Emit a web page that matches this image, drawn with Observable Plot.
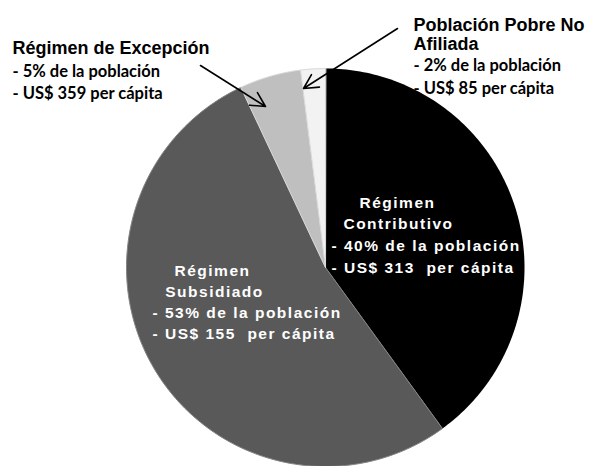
<!DOCTYPE html>
<html>
<head>
<meta charset="utf-8">
<script src="https://cdn.jsdelivr.net/npm/d3@7"></script>
<script src="https://cdn.jsdelivr.net/npm/@observablehq/plot@0.6"></script>
<style>
  html, body { margin: 0; padding: 0; background: #fff; }
</style>
</head>
<body>
<div id="chart"></div>
<script>
// ---- data ----
const categories = ["Régimen Contributivo", "Régimen Subsidiado", "Régimen de Excepción", "Población Pobre No Afiliada"];
const shares = [40, 53, 5, 2];            // % de la población
const perCapita = [313, 155, 359, 85];    // US$ per cápita
const colors = ["#000000", "#595959", "#bfbfbf", "#f2f2f2"];

// ---- layout ----
const W = 590, H = 466;
const cx = 325, cy = 267, R = 199;
const toX = px => (px - cx) / R;
const toY = py => (cy - py) / R;

// slice outlines (clockwise from 12 o'clock)
const total = d3.sum(shares);
let acc = 0;
const slices = shares.map((s, i) => {
  const a0 = acc / total * 2 * Math.PI;
  acc += s;
  const a1 = acc / total * 2 * Math.PI;
  const n = Math.max(2, Math.ceil((a1 - a0) / (Math.PI / 180)));
  const pts = [{x: 0, y: 0}];
  for (let k = 0; k <= n; k++) {
    const a = a0 + (a1 - a0) * k / n;
    pts.push({x: Math.sin(a), y: Math.cos(a)});
  }
  return {i, a0, a1, mid: (a0 + a1) / 2, pts};
});

const sliceMarks = slices.map(s => Plot.line(s.pts, {
  x: "x", y: "y", curve: "linear-closed",
  fill: colors[s.i],
  stroke: s.i === 1 ? "#858585" : (s.i === 0 ? "none" : "#d9d9d9"),
  strokeWidth: 1
}));

// inner labels
const innerTitles = [
  {t: "Régimen", x: 397, y: 207},
  {t: "Contributivo", x: 398, y: 228},
  {t: "Régimen", x: 212, y: 275},
  {t: "Subsidiado", x: 214, y: 296}
];
const innerBullets = [
  {t: `- ${shares[0]}% de la población`, x: 331, y: 250},
  {t: `- US$ ${perCapita[0]}  per cápita`, x: 331, y: 272},
  {t: `- ${shares[1]}% de la población`, x: 152, y: 317},
  {t: `- US$ ${perCapita[1]}  per cápita`, x: 152, y: 338}
];

const outerTitles = [
  {t: "Régimen de Excepción", x: 12, y: 53},
  {t: "Población Pobre No", x: 413, y: 30},
  {t: "Afiliada", x: 413, y: 49}
];
const outerBullets = [
  {t: `- ${shares[2]}% de la población`, x: 12, y: 76},
  {t: `- US$ ${perCapita[2]} per cápita`, x: 12, y: 98},
  {t: `- ${shares[3]}% de la población`, x: 413, y: 70},
  {t: `- US$ ${perCapita[3]} per cápita`, x: 413, y: 93}
];

const arrows = [
  {x1: 200, y1: 65, x2: 265, y2: 106},
  {x1: 397, y1: 28, x2: 303, y2: 88}
];

const innerFont = {fill: "white", fontSize: 15.5, fontWeight: "bold",
  fontFamily: "Liberation Sans, Arial, sans-serif", lineAnchor: "bottom"};

const chart = Plot.plot({
  width: W, height: H,
  marginTop: 0, marginRight: 0, marginBottom: 0, marginLeft: 0,
  x: {domain: [-1, 1], range: [cx - R, cx + R], axis: null},
  y: {domain: [-1, 1], range: [cy + R, cy - R], axis: null},
  style: {background: "#fff", overflow: "visible"},
  marks: [
    ...sliceMarks,
    Plot.text(innerTitles, {x: d => toX(d.x), y: d => toY(d.y), text: "t", textAnchor: "middle", ...innerFont}),
    Plot.text(innerBullets, {x: d => toX(d.x), y: d => toY(d.y), text: "t", textAnchor: "start", ...innerFont}),
    Plot.text(outerTitles, {
      x: d => toX(d.x), y: d => toY(d.y), text: "t", textAnchor: "start",
      lineAnchor: "bottom", fill: "#000", fontSize: 18, fontWeight: "bold",
      fontFamily: "Liberation Sans, Arial, sans-serif"
    }),
    Plot.text(outerBullets, {
      x: d => toX(d.x), y: d => toY(d.y), text: "t", textAnchor: "start",
      lineAnchor: "bottom", fill: "#000", fontSize: 16.5, fontWeight: "bold",
      fontFamily: "Lato, sans-serif"
    }),
    Plot.arrow(arrows, {
      x1: d => toX(d.x1), y1: d => toY(d.y1), x2: d => toX(d.x2), y2: d => toY(d.y2),
      stroke: "#000", strokeWidth: 1.6, headLength: 15, headAngle: 55
    })
  ]
});

d3.select(chart).selectAll("g").filter(function() {
  const f = this.getAttribute("fill");
  return f === "white" || f === "#fff" || f === "#ffffff";
}).selectAll("text").attr("letter-spacing", "1.5px").style("white-space", "pre");
document.getElementById("chart").appendChild(chart);
</script>
</body>
</html>
